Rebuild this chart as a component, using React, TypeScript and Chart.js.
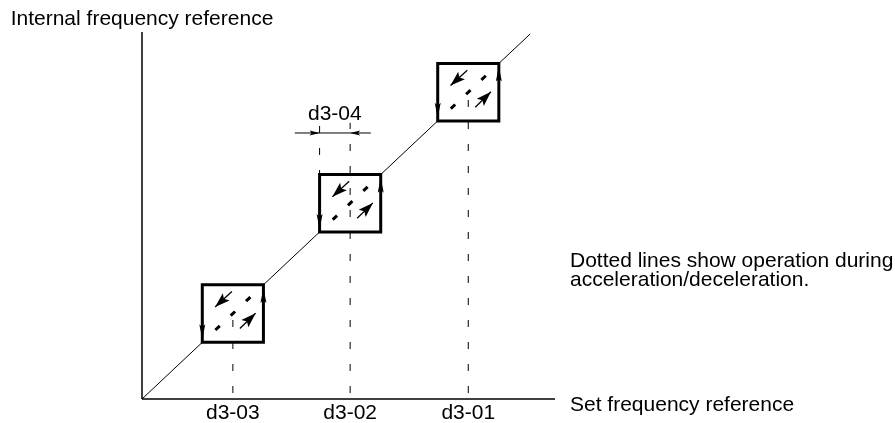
import React, { useEffect, useRef } from 'react';
import { Chart, registerables } from 'chart.js';

Chart.register(...registerables);

// ---- diagram values ----
const xMax = 100; // set frequency reference axis length
const yMax = 94.5; // internal frequency reference axis length
const setPoints = [22, 50.4, 79]; // d3-03, d3-02, d3-01
const setLabels = ['d3-03', 'd3-02', 'd3-01'];
const jumpWidth = 7.4; // d3-04 (half size of each hold band)
const jumpLabel = 'd3-04';
const lineEnd = 94; // end of the reference line
const dashTops = [22, 71.1, 79]; // top of each dashed guide
const jumpGuideTop = 70.3; // top of the d3-04 guide at the band edge
const jumpMarkerY = 68.5; // height of the d3-04 dimension marker
const jumpMarkerSpan = [37, 55.4]; // ends of the d3-04 marker line
const innerArrowUL = [[-0.24, 5.66], [-4.3, 1.7]]; // tail, tip (offset from band centre)
const innerArrowLR = [[1.7, -3.86], [5.5, 0.1]];
const yAxisTitle = 'Internal frequency reference';
const xAxisTitle = 'Set frequency reference';
const noteLines = ['Dotted lines show operation during', 'acceleration/deceleration.'];
const noteY = 34;

const FONT = '21px "Liberation Sans", Arial, Helvetica, sans-serif';

type P = number[];

function seg(points: P[], opts: any = {}) {
  return {
    data: points.map(([x, y]) => ({ x, y })),
    showLine: true,
    borderColor: '#000',
    backgroundColor: '#000',
    borderWidth: 1,
    pointRadius: 0,
    pointHoverRadius: 0,
    fill: false,
    tension: 0,
    clip: false,
    borderCapStyle: 'butt',
    borderJoinStyle: 'miter',
    ...opts,
  };
}

function buildDatasets() {
  const b = jumpWidth;
  const ds: any[] = [];
  // axes
  ds.push(seg([[0, 0], [xMax, 0]], { borderWidth: 1.5 }));
  ds.push(seg([[0, 0], [0, yMax]], { borderWidth: 1.5 }));
  // reference line, broken by the hold bands
  const chain: P[] = [[0, 0]];
  setPoints.forEach((c) => {
    chain.push([c - b, c - b]);
    chain.push([c + b, c + b]);
  });
  chain.push([lineEnd, lineEnd]);
  for (let i = 0; i < chain.length; i += 2) {
    ds.push(seg([chain[i], chain[i + 1]]));
  }
  setPoints.forEach((c, i) => {
    // band box
    ds.push(
      seg(
        [
          [c - b, c - b],
          [c - b, c + b],
          [c + b, c + b],
          [c + b, c - b],
          [c - b, c - b],
          [c - b, c + b],
        ],
        { borderWidth: 3 }
      )
    );
    // dotted acceleration / deceleration path
    ds.push(
      seg([[c - 0.75 * b, c - 0.75 * b], [c + 0.75 * b, c + 0.75 * b]], {
        borderWidth: 3,
        borderDash: [6, 15],
        borderDashOffset: 13.5,
      })
    );
    // vertical dashed guide
    ds.push(seg([[c, 0], [c, dashTops[i]]], { borderDash: [7, 15], borderDashOffset: 16 }));
    // inner arrow shafts
    ds.push(seg([[c + innerArrowUL[0][0], c + innerArrowUL[0][1]], [c + innerArrowUL[1][0], c + innerArrowUL[1][1]]], { borderWidth: 1.3 }));
    ds.push(seg([[c + innerArrowLR[0][0], c + innerArrowLR[0][1]], [c + innerArrowLR[1][0], c + innerArrowLR[1][1]]], { borderWidth: 1.3 }));
  });
  // d3-04 guide at the band edge
  const c2 = setPoints[1];
  ds.push(seg([[c2 - b, jumpGuideTop], [c2 - b, c2 + b]], { borderDash: [7, 15] }));
  // d3-04 marker line
  ds.push(seg([[jumpMarkerSpan[0], jumpMarkerY], [jumpMarkerSpan[1], jumpMarkerY]]));
  return ds;
}

function buildArrowHeads() {
  const b = jumpWidth;
  const heads: { tail: P; tip: P; len: number; wid: number }[] = [];
  setPoints.forEach((c) => {
    heads.push({ tail: [c + innerArrowUL[0][0], c + innerArrowUL[0][1]], tip: [c + innerArrowUL[1][0], c + innerArrowUL[1][1]], len: 15, wid: 10 });
    heads.push({ tail: [c + innerArrowLR[0][0], c + innerArrowLR[0][1]], tip: [c + innerArrowLR[1][0], c + innerArrowLR[1][1]], len: 15, wid: 10 });
    heads.push({ tail: [c - b, c], tip: [c - b, c - b + 0.8], len: 15, wid: 6 });
    heads.push({ tail: [c + b, c], tip: [c + b, c + b - 0.8], len: 15, wid: 6 });
  });
  const c2 = setPoints[1];
  heads.push({ tail: [jumpMarkerSpan[0], jumpMarkerY], tip: [c2 - b, jumpMarkerY], len: 10, wid: 5 });
  heads.push({ tail: [jumpMarkerSpan[1], jumpMarkerY], tip: [c2, jumpMarkerY], len: 10, wid: 5 });
  return heads;
}

const overlayPlugin = {
  id: 'overlay',
  afterDatasetsDraw(chart: any) {
    const { ctx } = chart;
    const xs = chart.scales.x;
    const ys = chart.scales.y;
    const px = (p: P) => [xs.getPixelForValue(p[0]), ys.getPixelForValue(p[1])];
    ctx.save();
    ctx.fillStyle = '#000';
    buildArrowHeads().forEach(({ tail, tip, len, wid }) => {
      const [tx, ty] = px(tail);
      const [hx, hy] = px(tip);
      const ang = Math.atan2(hy - ty, hx - tx);
      ctx.save();
      ctx.translate(hx, hy);
      ctx.rotate(ang);
      ctx.beginPath();
      ctx.moveTo(0, 0);
      ctx.lineTo(-len, -wid / 2);
      ctx.lineTo(-len * 0.8, 0);
      ctx.lineTo(-len, wid / 2);
      ctx.closePath();
      ctx.fill();
      ctx.restore();
    });

    ctx.font = FONT;
    ctx.textBaseline = 'alphabetic';
    // y axis title, centred over the axis
    const [ax, ay] = px([0, yMax]);
    ctx.textAlign = 'center';
    ctx.fillText(yAxisTitle, ax, ay - 7);
    // x axis title
    const [ex, ey] = px([xMax, 0]);
    ctx.textAlign = 'left';
    ctx.fillText(xAxisTitle, ex + 15, ey + 12);
    // set point labels
    ctx.textAlign = 'center';
    setPoints.forEach((c, i) => {
      const [lx, ly] = px([c, 0]);
      ctx.fillText(setLabels[i], lx, ly + 20);
    });
    // d3-04 label
    const [jx, jy] = px([setPoints[1] - jumpWidth / 2, jumpMarkerY]);
    ctx.fillText(jumpLabel, jx, jy - 13);
    // note
    ctx.textAlign = 'left';
    const [nx, ny] = px([xMax, noteY]);
    noteLines.forEach((t, i) => ctx.fillText(t, nx + 15, ny + i * 19));
    ctx.restore();
  },
};

export default function App() {
  const ref = useRef<HTMLCanvasElement | null>(null);
  useEffect(() => {
    if (!ref.current) return;
    const chart = new Chart(ref.current, {
      type: 'scatter',
      data: { datasets: buildDatasets() },
      options: {
        animation: false,
        responsive: false,
        devicePixelRatio: 1,
        events: [],
        layout: { padding: { left: 142, top: 32, right: 340, bottom: 24 } },
        plugins: { legend: { display: false }, tooltip: { enabled: false }, title: { display: false } },
        scales: {
          x: { type: 'linear', min: 0, max: xMax, display: false },
          y: { type: 'linear', min: 0, max: yMax, display: false },
        },
      },
      plugins: [overlayPlugin],
    });
    return () => chart.destroy();
  }, []);
  return (
    <canvas
      ref={ref}
      width={895}
      height={423}
      style={{ position: 'absolute', left: 0, top: 0, width: 895, height: 423, background: '#fff' }}
    />
  );
}
